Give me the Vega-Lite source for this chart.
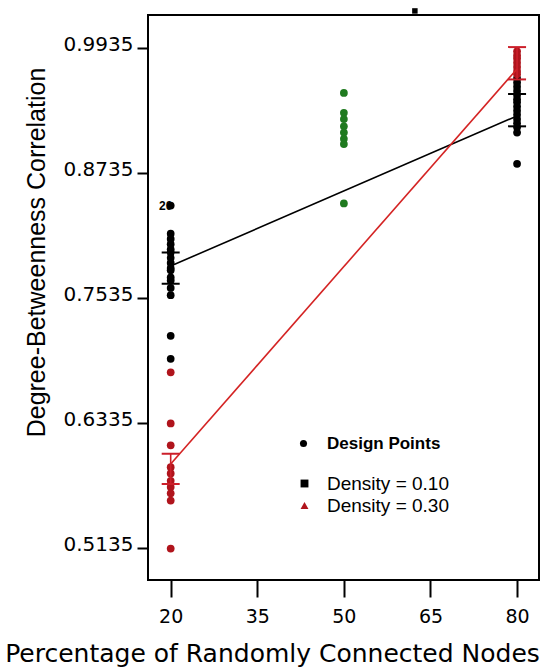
{
  "$schema": "https://vega.github.io/schema/vega-lite/v6.json",
  "width": 391,
  "height": 565,
  "autosize": {"type": "none"},
  "padding": {"left": 148, "top": 15, "right": 3, "bottom": 91},
  "background": "white",
  "config": {
    "view": {"stroke": "black", "strokeWidth": 2},
    "font": "Liberation Sans",
    "axisX": {"domain": false, "grid": false, "tickSize": 17, "tickWidth": 2, "tickColor": "black",
      "labelFont": "DejaVu Sans", "labelFontSize": 19, "labelColor": "black", "labelPadding": 10, "labelFlush": false, "labelOverlap": false,
      "titleFont": "DejaVu Sans", "titleFontSize": 25, "titleFontWeight": "normal", "titleColor": "black",
      "titleX": 124, "titleY": 81, "titleAlign": "center", "titleBaseline": "alphabetic"},
    "axisY": {"domain": false, "grid": false, "tickSize": 11, "tickWidth": 2, "tickColor": "black",
      "labelFont": "DejaVu Sans", "labelFontSize": 20, "labelColor": "black", "labelPadding": 4, "labelOverlap": false,
      "titleFont": "Liberation Sans", "titleFontSize": 25, "titleFontWeight": "normal", "titleColor": "black",
      "titleX": -104, "titleY": 237, "titleAngle": -90, "titleAlign": "center", "titleBaseline": "alphabetic"}
  },
  "datasets": {
    "pts": [
      {"pct": 20, "corr": 0.842, "grp": "d10"},
      {"pct": 20, "corr": 0.815, "grp": "d10"},
      {"pct": 20, "corr": 0.810, "grp": "d10"},
      {"pct": 20, "corr": 0.805, "grp": "d10"},
      {"pct": 20, "corr": 0.800, "grp": "d10"},
      {"pct": 20, "corr": 0.797, "grp": "d10"},
      {"pct": 20, "corr": 0.792, "grp": "d10"},
      {"pct": 20, "corr": 0.787, "grp": "d10"},
      {"pct": 20, "corr": 0.782, "grp": "d10"},
      {"pct": 20, "corr": 0.780, "grp": "d10"},
      {"pct": 20, "corr": 0.773, "grp": "d10"},
      {"pct": 20, "corr": 0.770, "grp": "d10"},
      {"pct": 20, "corr": 0.763, "grp": "d10"},
      {"pct": 20, "corr": 0.756, "grp": "d10"},
      {"pct": 20, "corr": 0.717, "grp": "d10"},
      {"pct": 20, "corr": 0.695, "grp": "d10"},
      {"pct": 20, "corr": 0.682, "grp": "d30"},
      {"pct": 20, "corr": 0.633, "grp": "d30"},
      {"pct": 20, "corr": 0.612, "grp": "d30"},
      {"pct": 20, "corr": 0.591, "grp": "d30"},
      {"pct": 20, "corr": 0.585, "grp": "d30"},
      {"pct": 20, "corr": 0.578, "grp": "d30"},
      {"pct": 20, "corr": 0.572, "grp": "d30"},
      {"pct": 20, "corr": 0.566, "grp": "d30"},
      {"pct": 20, "corr": 0.559, "grp": "d30"},
      {"pct": 20, "corr": 0.513, "grp": "d30"},
      {"pct": 50, "corr": 0.950, "grp": "center"},
      {"pct": 50, "corr": 0.931, "grp": "center"},
      {"pct": 50, "corr": 0.925, "grp": "center"},
      {"pct": 50, "corr": 0.918, "grp": "center"},
      {"pct": 50, "corr": 0.912, "grp": "center"},
      {"pct": 50, "corr": 0.906, "grp": "center"},
      {"pct": 50, "corr": 0.901, "grp": "center"},
      {"pct": 50, "corr": 0.844, "grp": "center"},
      {"pct": 80, "corr": 0.964, "grp": "d10"},
      {"pct": 80, "corr": 0.960, "grp": "d10"},
      {"pct": 80, "corr": 0.956, "grp": "d10"},
      {"pct": 80, "corr": 0.952, "grp": "d10"},
      {"pct": 80, "corr": 0.948, "grp": "d10"},
      {"pct": 80, "corr": 0.944, "grp": "d10"},
      {"pct": 80, "corr": 0.941, "grp": "d10"},
      {"pct": 80, "corr": 0.937, "grp": "d10"},
      {"pct": 80, "corr": 0.933, "grp": "d10"},
      {"pct": 80, "corr": 0.929, "grp": "d10"},
      {"pct": 80, "corr": 0.925, "grp": "d10"},
      {"pct": 80, "corr": 0.921, "grp": "d10"},
      {"pct": 80, "corr": 0.917, "grp": "d10"},
      {"pct": 80, "corr": 0.912, "grp": "d10"},
      {"pct": 80, "corr": 0.882, "grp": "d10"},
      {"pct": 80, "corr": 0.990, "grp": "d30"},
      {"pct": 80, "corr": 0.986, "grp": "d30"},
      {"pct": 80, "corr": 0.983, "grp": "d30"},
      {"pct": 80, "corr": 0.979, "grp": "d30"},
      {"pct": 80, "corr": 0.975, "grp": "d30"},
      {"pct": 80, "corr": 0.971, "grp": "d30"},
      {"pct": 80, "corr": 0.968, "grp": "d30"}
    ],
    "lines": [
      {"pct": 20, "corr": 0.784, "density": "Density = 0.10"},
      {"pct": 80, "corr": 0.928, "density": "Density = 0.10"},
      {"pct": 20, "corr": 0.594, "density": "Density = 0.30"},
      {"pct": 80, "corr": 0.973, "density": "Density = 0.30"}
    ],
    "errbars": [
      {"pct": 20, "lo": 0.767, "hi": 0.797, "density": "Density = 0.10"},
      {"pct": 80, "lo": 0.918, "hi": 0.949, "density": "Density = 0.10"},
      {"pct": 20, "lo": 0.575, "hi": 0.604, "density": "Density = 0.30"},
      {"pct": 80, "lo": 0.963, "hi": 0.994, "density": "Density = 0.30"}
    ],
    "tags": [{"pct": 20, "corr": 0.842, "label": "20"}],
    "stray": [{"pct": 62.3, "corr": 1.0287}]
  },
  "layer": [
    {
      "data": {"name": "pts"},
      "mark": {"type": "point", "filled": true, "size": 60, "opacity": 1},
      "encoding": {
        "x": {"field": "pct", "type": "quantitative", "scale": {"domain": [16.07, 83.8], "nice": false, "zero": false},
          "axis": {"values": [20, 35, 50, 65, 80]}, "title": "Percentage of Randomly Connected Nodes"},
        "y": {"field": "corr", "type": "quantitative", "scale": {"domain": [0.4828, 1.0248], "nice": false, "zero": false},
          "axis": {"values": [0.5135, 0.6335, 0.7535, 0.8735, 0.9935], "format": ".4f", "labelOffset": -3},
          "title": "Degree-Betweenness Correlation"},
        "color": {"field": "grp", "type": "nominal", "scale": {"domain": ["d10", "d30", "center"], "range": ["#000000", "#b0141c", "#1f7a1f"]}, "legend": null},
        "shape": {"datum": "Design Points", "scale": {"range": ["circle"]},
          "legend": {"orient": "none", "legendX": 147, "legendY": 420, "title": null, "padding": 0, "labelFontSize": 17, "labelFontWeight": "bold",
            "labelFont": "Liberation Sans", "labelColor": "black", "labelOffset": 15, "symbolSize": 50, "symbolFillColor": "black",
            "symbolStrokeColor": "black", "symbolStrokeWidth": 0, "symbolType": "circle", "symbolOpacity": 1}}
      }
    },
    {
      "data": {"name": "lines"},
      "mark": {"type": "line", "strokeWidth": 1.6},
      "encoding": {
        "x": {"field": "pct", "type": "quantitative", "scale": {"domain": [16.07, 83.8], "nice": false, "zero": false},
          "axis": {"values": [20, 35, 50, 65, 80]}, "title": "Percentage of Randomly Connected Nodes"},
        "y": {"field": "corr", "type": "quantitative", "scale": {"domain": [0.4828, 1.0248], "nice": false, "zero": false},
          "axis": {"values": [0.5135, 0.6335, 0.7535, 0.8735, 0.9935], "format": ".4f", "labelOffset": -3},
          "title": "Degree-Betweenness Correlation"},
        "color": {"field": "density", "type": "nominal", "scale": {"domain": ["Density = 0.10", "Density = 0.30"], "range": ["#000000", "#d42323"]}, "legend": null}
      }
    },
    {
      "data": {"name": "lines"},
      "mark": {"type": "point", "filled": true, "opacity": 0},
      "encoding": {
        "x": {"field": "pct", "type": "quantitative", "scale": {"domain": [16.07, 83.8], "nice": false, "zero": false},
          "axis": {"values": [20, 35, 50, 65, 80]}, "title": "Percentage of Randomly Connected Nodes"},
        "y": {"field": "corr", "type": "quantitative", "scale": {"domain": [0.4828, 1.0248], "nice": false, "zero": false},
          "axis": {"values": [0.5135, 0.6335, 0.7535, 0.8735, 0.9935], "format": ".4f", "labelOffset": -3},
          "title": "Degree-Betweenness Correlation"},
        "shape": {"field": "density", "type": "nominal", "scale": {"domain": ["Density = 0.10", "Density = 0.30"], "range": ["square", "triangle-up"]},
          "legend": {"orient": "none", "legendX": 147, "legendY": 459, "title": null, "padding": 0, "labelFontSize": 19,
            "labelFont": "Liberation Sans", "labelColor": "black", "labelOffset": 13, "symbolSize": 62, "symbolOpacity": 1,
            "symbolStrokeWidth": 0, "rowPadding": 2}},
        "color": {"field": "density", "type": "nominal", "scale": {"domain": ["Density = 0.10", "Density = 0.30"], "range": ["#000000", "#b0141c"]},
          "legend": {"orient": "none", "legendX": 147, "legendY": 459, "title": null, "padding": 0, "labelFontSize": 19,
            "labelFont": "Liberation Sans", "labelColor": "black", "labelOffset": 13, "symbolSize": 62, "symbolOpacity": 1,
            "symbolStrokeWidth": 0, "rowPadding": 2}}
      }
    },
    {
      "data": {"name": "errbars"},
      "mark": {"type": "rule", "strokeWidth": 1.6},
      "encoding": {
        "x": {"field": "pct", "type": "quantitative", "scale": {"domain": [16.07, 83.8], "nice": false, "zero": false},
          "axis": {"values": [20, 35, 50, 65, 80]}, "title": "Percentage of Randomly Connected Nodes"},
        "y": {"field": "lo", "type": "quantitative", "scale": {"domain": [0.4828, 1.0248], "nice": false, "zero": false},
          "axis": {"values": [0.5135, 0.6335, 0.7535, 0.8735, 0.9935], "format": ".4f", "labelOffset": -3},
          "title": "Degree-Betweenness Correlation"},
        "y2": {"field": "hi"},
        "color": {"field": "density", "type": "nominal", "scale": {"domain": ["Density = 0.10", "Density = 0.30"], "range": ["#000000", "#cc1f2a"]}, "legend": null}
      }
    },
    {
      "data": {"name": "errbars"},
      "mark": {"type": "tick", "orient": "horizontal", "size": 18, "thickness": 2, "opacity": 1},
      "encoding": {
        "x": {"field": "pct", "type": "quantitative", "scale": {"domain": [16.07, 83.8], "nice": false, "zero": false},
          "axis": {"values": [20, 35, 50, 65, 80]}, "title": "Percentage of Randomly Connected Nodes"},
        "y": {"field": "lo", "type": "quantitative", "scale": {"domain": [0.4828, 1.0248], "nice": false, "zero": false},
          "axis": {"values": [0.5135, 0.6335, 0.7535, 0.8735, 0.9935], "format": ".4f", "labelOffset": -3},
          "title": "Degree-Betweenness Correlation"},
        "color": {"field": "density", "type": "nominal", "scale": {"domain": ["Density = 0.10", "Density = 0.30"], "range": ["#000000", "#cc1f2a"]}, "legend": null}
      }
    },
    {
      "data": {"name": "errbars"},
      "mark": {"type": "tick", "orient": "horizontal", "size": 18, "thickness": 2, "opacity": 1},
      "encoding": {
        "x": {"field": "pct", "type": "quantitative", "scale": {"domain": [16.07, 83.8], "nice": false, "zero": false},
          "axis": {"values": [20, 35, 50, 65, 80]}, "title": "Percentage of Randomly Connected Nodes"},
        "y": {"field": "hi", "type": "quantitative", "scale": {"domain": [0.4828, 1.0248], "nice": false, "zero": false},
          "axis": {"values": [0.5135, 0.6335, 0.7535, 0.8735, 0.9935], "format": ".4f", "labelOffset": -3},
          "title": "Degree-Betweenness Correlation"},
        "color": {"field": "density", "type": "nominal", "scale": {"domain": ["Density = 0.10", "Density = 0.30"], "range": ["#000000", "#cc1f2a"]}, "legend": null}
      }
    },
    {
      "data": {"name": "tags"},
      "mark": {"type": "text", "fontSize": 12, "fontWeight": "bold", "dx": -5, "align": "center", "baseline": "middle", "color": "black"},
      "encoding": {
        "x": {"field": "pct", "type": "quantitative", "scale": {"domain": [16.07, 83.8], "nice": false, "zero": false},
          "axis": {"values": [20, 35, 50, 65, 80]}, "title": "Percentage of Randomly Connected Nodes"},
        "y": {"field": "corr", "type": "quantitative", "scale": {"domain": [0.4828, 1.0248], "nice": false, "zero": false},
          "axis": {"values": [0.5135, 0.6335, 0.7535, 0.8735, 0.9935], "format": ".4f", "labelOffset": -3},
          "title": "Degree-Betweenness Correlation"},
        "text": {"field": "label"}
      }
    },
    {
      "data": {"name": "stray"},
      "mark": {"type": "square", "size": 30, "color": "black", "opacity": 1, "clip": false},
      "encoding": {
        "x": {"field": "pct", "type": "quantitative", "scale": {"domain": [16.07, 83.8], "nice": false, "zero": false},
          "axis": {"values": [20, 35, 50, 65, 80]}, "title": "Percentage of Randomly Connected Nodes"},
        "y": {"field": "corr", "type": "quantitative", "scale": {"domain": [0.4828, 1.0248], "nice": false, "zero": false},
          "axis": {"values": [0.5135, 0.6335, 0.7535, 0.8735, 0.9935], "format": ".4f", "labelOffset": -3},
          "title": "Degree-Betweenness Correlation"}
      }
    }
  ],
  "resolve": {"scale": {"color": "independent", "shape": "independent"}}
}
